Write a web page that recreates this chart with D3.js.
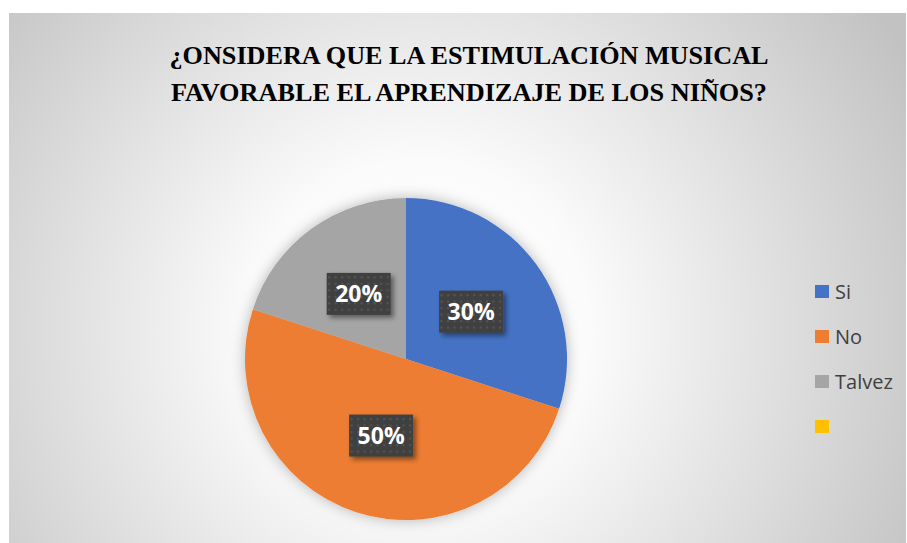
<!DOCTYPE html>
<html><head><meta charset="utf-8">
<script src="https://cdn.jsdelivr.net/npm/d3@7"></script>
<style>html,body{margin:0;padding:0;background:#fff;}svg{display:block;}
.ttl{font-family:"Liberation Serif","Tinos","Times New Roman","DejaVu Serif",serif;font-weight:bold;}
.sans{font-family:"Open Sans",sans-serif;}
</style>
</head><body>
<script>
const categories = ["Si", "No", "Talvez", ""];
const values = [30, 50, 20, 0];
const labels = ["30%", "50%", "20%", ""];
const colors = ["#4472C4", "#ED7D31", "#A5A5A5", "#FFC000"];
const titleLines = ["¿ONSIDERA QUE LA ESTIMULACIÓN MUSICAL", "FAVORABLE EL APRENDIZAJE DE LOS NIÑOS?"];

const W = 907, H = 543;
const svg = d3.select("body").append("svg").attr("width", W).attr("height", H);
const defs = svg.append("defs");

const bg = defs.append("radialGradient").attr("id","bg").attr("gradientUnits","userSpaceOnUse")
  .attr("cx",420).attr("cy",330).attr("r",560);
bg.append("stop").attr("offset","0").attr("stop-color","#ffffff");
bg.append("stop").attr("offset","0.3").attr("stop-color","#fbfbfb");
bg.append("stop").attr("offset","1").attr("stop-color","#c2c2c2");

const pieSh = defs.append("filter").attr("id","pieShadow").attr("x","-20%").attr("y","-20%").attr("width","140%").attr("height","140%");
pieSh.append("feDropShadow").attr("dx",0).attr("dy",0).attr("stdDeviation",7).attr("flood-color","#000").attr("flood-opacity",0.28);

const boxSh = defs.append("filter").attr("id","boxShadow").attr("x","-30%").attr("y","-30%").attr("width","160%").attr("height","160%");
boxSh.append("feDropShadow").attr("dx",3).attr("dy",3).attr("stdDeviation",2.5).attr("flood-color","#000").attr("flood-opacity",0.45);

const pat = defs.append("pattern").attr("id","dots").attr("patternUnits","userSpaceOnUse").attr("width",6.5).attr("height",6.5);
pat.append("rect").attr("width",6.5).attr("height",6.5).attr("fill","#404040");
pat.append("rect").attr("x",2).attr("y",2).attr("width",2).attr("height",2).attr("fill","#565656");

svg.append("rect").attr("x",9).attr("y",13).attr("width",W-10).attr("height",H-13).attr("fill","url(#bg)");

// Title
const title = svg.append("text").attr("class","ttl").attr("text-anchor","middle")
  .attr("font-size",24.5).attr("fill","#000");
const titleWidths = [599, 596];
titleLines.forEach((t,i)=>title.append("tspan").attr("x",469).attr("y",64 + i*37)
  .attr("textLength",titleWidths[i]).attr("lengthAdjust","spacingAndGlyphs").text(t));

// Pie
const cx = 406, cy = 359, r = 161;
const pie = d3.pie().sort(null).value(d=>d.v);
const data = pie(categories.map((c,i)=>({c, v: values[i], i})));
const arc = d3.arc().innerRadius(0).outerRadius(r);
const g = svg.append("g").attr("transform",`translate(${cx},${cy})`);
g.append("g").attr("filter","url(#pieShadow)").selectAll("path").data(data.filter(d=>d.data.v>0)).join("path")
  .attr("d",arc).attr("fill",d=>colors[d.data.i]);

const labelArc = d3.arc().innerRadius(r*0.5).outerRadius(r*0.5);
const lg = g.selectAll("g.lbl").data(data.filter(d=>d.data.v>0)).join("g").attr("class","lbl")
  .attr("transform",d=>`translate(${labelArc.centroid(d)})`);
lg.append("rect").attr("x",-32).attr("y",-21).attr("width",64).attr("height",42)
  .attr("fill","url(#dots)").attr("filter","url(#boxShadow)");
lg.append("text").attr("class","sans").attr("text-anchor","middle").attr("dy","0.36em")
  .attr("font-weight","bold").attr("font-size",23)
  .attr("fill","#fff").text(d=>labels[d.data.i]);

// Legend
const leg = svg.append("g").attr("transform","translate(815,285)");
const li = leg.selectAll("g").data(categories).join("g").attr("transform",(d,i)=>`translate(0,${i*45})`);
li.append("rect").attr("width",14).attr("height",13).attr("fill",(d,i)=>colors[i]);
li.append("text").attr("class","sans").attr("x",20).attr("y",6.5).attr("dy","0.36em")
  .attr("font-size",20).attr("fill","#404040").text(d=>d);
</script>
</body></html>
